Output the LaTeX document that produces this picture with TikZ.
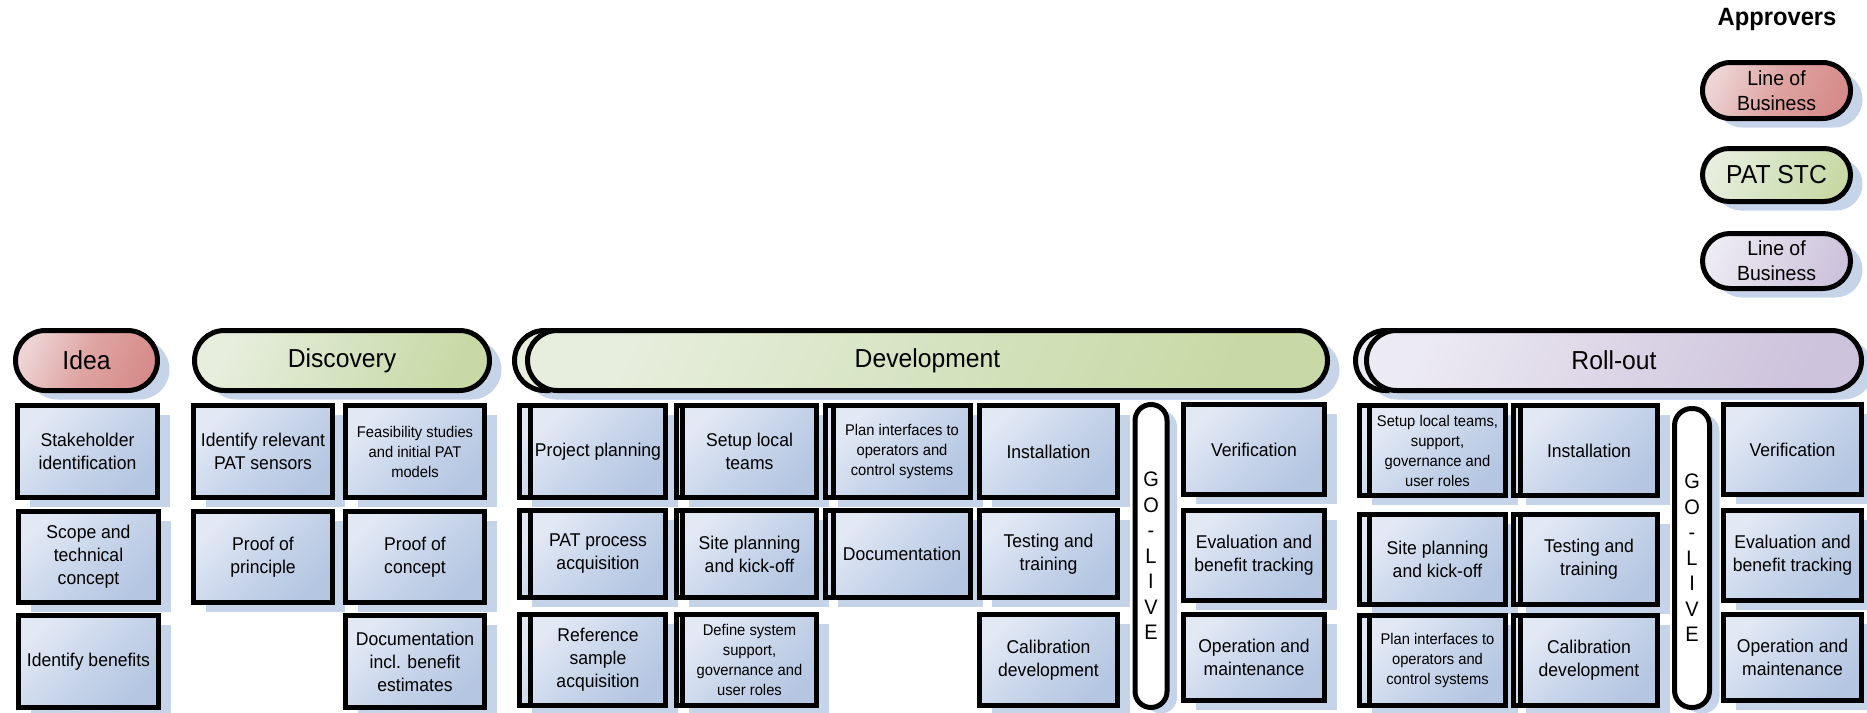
\documentclass[tikz,border=0pt]{standalone}
\usepackage{fontspec}
\setmainfont{Liberation Sans}[FakeStretch=0.95]
\usetikzlibrary{shadows}
\definecolor{boxA}{HTML}{E2E9F5}
\definecolor{boxM}{HTML}{C8D5EA}
\definecolor{boxB}{HTML}{B4C6E2}
\definecolor{redA}{HTML}{EDD3D3}
\definecolor{redM}{HTML}{DEA4A2}
\definecolor{redB}{HTML}{D68C8A}
\definecolor{grnA}{HTML}{E7EEDD}
\definecolor{grnM}{HTML}{D6E3C1}
\definecolor{grnB}{HTML}{C8D9A5}
\definecolor{purA}{HTML}{ECEAF3}
\definecolor{purM}{HTML}{DCD5E6}
\definecolor{purB}{HTML}{CDC3DC}
\definecolor{shd}{HTML}{C6D4EA}
\tikzset{
  base/.style={draw=black, line width=5pt,
    general shadow={draw=none, fill=shd, shadow xshift=12pt, shadow yshift=-9pt}},
  cell/.style={base, top color=boxA, bottom color=boxB, middle color=boxM, shading angle=45,
    align=center, inner sep=1pt, font=\fontsize{18.5}{23}\selectfont},
  small/.style={font=\fontsize{15.5}{20}\selectfont},
  pill/.style={base, align=center, inner sep=1pt, font=\fontsize{26}{30}\selectfont},
  redpill/.style={pill, top color=redA, bottom color=redB, middle color=redM, shading angle=65},
  grnpill/.style={pill, top color=grnA, bottom color=grnB, middle color=grnM, shading angle=65},
  purpill/.style={pill, top color=purA, bottom color=purB, middle color=purM, shading angle=65},
  apptext/.style={font=\fontsize{20.5}{25}\selectfont},
  golive/.style={draw=black, line width=5pt, fill=white, align=center, inner sep=0pt,
    font=\fontsize{21}{25.5}\selectfont,
    general shadow={draw=none, fill=shd, shadow xshift=10pt, shadow yshift=-6pt}}
}
% #1 style, #2 name, #3 x1, #4 y1, #5 x2, #6 y2, #7 text
\newcommand\tbox[7]{%
  \pgfmathsetmacro\bxw{#5-#3-5}\pgfmathsetmacro\bxh{#6-#4-5}%
  \node[cell,#1,minimum width=\bxw pt,minimum height=\bxh pt] (#2) at ({(#3+#5)/2},{(#4+#6)/2}) {#7};}
\newcommand\tpill[7]{%
  \pgfmathsetmacro\bxw{#5-#3-5}\pgfmathsetmacro\bxh{#6-#4-5}\pgfmathsetmacro\bxr{\bxh/2}%
  \node[#1,minimum width=\bxw pt,minimum height=\bxh pt,rounded corners=\bxr pt] (#2) at ({(#3+#5)/2},{(#4+#6)/2}) {#7};}
\begin{document}
\begin{tikzpicture}[x=1pt,y=-1pt]
\useasboundingbox (0,0) rectangle (1867,712);

% Approvers
\node[font=\bfseries\fontsize{25}{28}\selectfont] (appr) at (1777,19) {Approvers};
\tpill{redpill,apptext}{ap1}{1700}{60}{1853}{121}{Line of\\Business}
\tpill{grnpill}{ap2}{1700}{146}{1853}{204}{PAT STC}
\tpill{purpill,apptext}{ap3}{1700}{231}{1853}{291}{Line of\\Business}

% phase pills
\tpill{redpill}{idea}{13}{328}{160}{393}{Idea}
\tpill{grnpill}{disc}{192}{328}{492}{393}{Discovery}
\tpill{grnpill}{devback}{512}{328}{1318}{393}{}
\tpill{grnpill}{dev}{525}{328}{1330}{393}{Development}
\tpill{purpill}{rollback}{1353}{328}{1852}{393}{}
\tpill{purpill}{roll}{1364}{328}{1864}{393}{Roll-out}

% Idea column
\tbox{}{i1}{15}{403}{160}{500}{Stakeholder\\identification}
\tbox{}{i2}{16}{509}{161}{605}{Scope and\\technical\\concept}
\tbox{}{i3}{16}{613}{161}{710}{Identify benefits}

% Discovery
\tbox{}{d11}{191}{403}{335}{500}{Identify relevant\\PAT sensors}
\tbox{}{d12}{191}{509}{335}{605}{Proof of\\principle}
\tbox{small}{d21}{343}{403}{487}{500}{Feasibility studies\\and initial PAT\\models}
\tbox{}{d22}{343}{509}{487}{605}{Proof of\\concept}
\tbox{}{d23}{343}{613}{487}{710}{Documentation\\incl. benefit\\estimates}

% Development column A
\tbox{}{a1b}{517}{403}{657}{500}{}
\tbox{}{a1}{528}{403}{668}{500}{Project planning}
\tbox{}{a2b}{517}{508}{657}{600}{}
\tbox{}{a2}{528}{508}{668}{600}{PAT process\\acquisition}
\tbox{}{a3b}{517}{612}{657}{708}{}
\tbox{}{a3}{528}{612}{668}{708}{Reference\\sample\\acquisition}
% column B
\tbox{}{b1b}{674}{403}{813}{500}{}
\tbox{}{b1}{680}{403}{819}{500}{Setup local\\teams}
\tbox{}{b2b}{674}{508}{813}{600}{}
\tbox{}{b2}{680}{508}{819}{600}{Site planning\\and kick-off}
\tbox{}{b3b}{674}{612}{813}{708}{}
\tbox{small}{b3}{680}{612}{819}{708}{Define system\\support,\\governance and\\user roles}
% column C
\tbox{}{c1b}{823}{403}{965}{500}{}
\tbox{small}{c1}{831}{403}{973}{500}{Plan interfaces to\\operators and\\control systems}
\tbox{}{c2b}{823}{508}{965}{600}{}
\tbox{}{c2}{831}{508}{973}{600}{Documentation}
% column D
\tbox{}{e1}{977}{403}{1120}{500}{Installation}
\tbox{}{e2}{977}{508}{1120}{600}{Testing and\\training}
\tbox{}{e3}{977}{612}{1120}{708}{Calibration\\development}

% GO-LIVE 1
\node[golive, minimum width=32pt, minimum height=303pt, rounded corners=16pt] (go1) at (1151,556) {G\\O\\-\\L\\I\\V\\E};

% Verification column
\tbox{}{v1}{1181}{402}{1327}{497}{Verification}
\tbox{}{v2}{1181}{508}{1327}{603}{Evaluation and\\benefit tracking}
\tbox{}{v3}{1181}{612}{1327}{703}{Operation and\\maintenance}

% Roll-out column 1
\tbox{}{r11b}{1357}{403}{1498}{498}{}
\tbox{small}{r11}{1367}{403}{1508}{498}{Setup local teams,\\support,\\governance and\\user roles}
\tbox{}{r12b}{1357}{512}{1498}{607}{}
\tbox{}{r12}{1367}{512}{1508}{607}{Site planning\\and kick-off}
\tbox{}{r13b}{1357}{613}{1498}{708}{}
\tbox{small}{r13}{1367}{613}{1508}{708}{Plan interfaces to\\operators and\\control systems}
% Roll-out column 2
\tbox{}{r21b}{1511}{403}{1653}{498}{}
\tbox{}{r21}{1518}{403}{1660}{498}{Installation}
\tbox{}{r22b}{1511}{512}{1653}{607}{}
\tbox{}{r22}{1518}{512}{1660}{607}{Testing and\\training}
\tbox{}{r23b}{1511}{613}{1653}{708}{}
\tbox{}{r23}{1518}{613}{1660}{708}{Calibration\\development}

% GO-LIVE 2
\node[golive, minimum width=35pt, minimum height=299pt, rounded corners=17pt] (go2) at (1692,558) {G\\O\\-\\L\\I\\V\\E};

% Roll-out column 4
\tbox{}{r41}{1721}{402}{1864}{497}{Verification}
\tbox{}{r42}{1721}{508}{1864}{603}{Evaluation and\\benefit tracking}
\tbox{}{r43}{1721}{612}{1864}{703}{Operation and\\maintenance}
\end{tikzpicture}
\end{document}
